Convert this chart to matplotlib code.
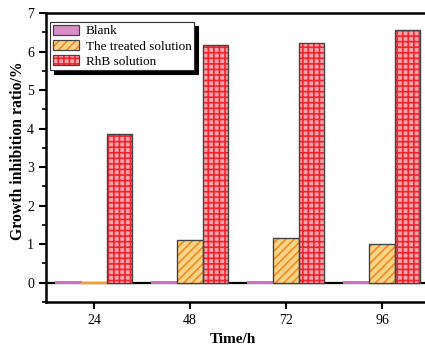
import matplotlib
matplotlib.use("Agg")
import matplotlib.pyplot as plt
from matplotlib.patches import Patch
from matplotlib.legend_handler import HandlerTuple
from matplotlib.ticker import MultipleLocator
import numpy as np

times = [24, 48, 72, 96]
tick_labels = ["24", "48", "72", "96"]
blank = [0.01, 0.01, 0.01, 0.01]
treated = [0.02, 1.10, 1.16, 1.00]
rhb = [3.87, 6.18, 6.23, 6.55]
series_names = ["Blank", "The treated solution", "RhB solution"]

plt.rcParams['font.family'] = ['Liberation Serif', 'DejaVu Serif']
plt.rcParams['hatch.linewidth'] = 1.2

fig = plt.figure(figsize=(4.25, 3.47), dpi=100)
ax = fig.add_axes([46/425, 45/347, 384/425, 289/347])

w = 6.4
x = np.array(times, dtype=float)
outline_dark = '#444444'

ax.axhline(0, color='black', lw=1.6, zorder=1)

# Blank
ax.bar(x - w, blank, width=w, color='#d88fc8', edgecolor='#d070c0', lw=1.5, zorder=2)
# Treated: fill+hatch, then outline
ax.bar(x, treated, width=w, color='#f8d488', edgecolor='#f08a22', hatch='////', lw=0, zorder=2)
tr_edges = [outline_dark if v > 0.05 else '#f0a030' for v in treated]
ax.bar(x, treated, width=w, fill=False, edgecolor=tr_edges, lw=1.0, zorder=3)
# RhB
ax.bar(x + w, rhb, width=w, color='#f9a3aa', edgecolor='#ee2530', hatch='+++', lw=0, zorder=2)
ax.bar(x + w, rhb, width=w, fill=False, edgecolor=outline_dark, lw=1.0, zorder=3)

ax.set_xlim(12, 108)
ax.set_ylim(-0.5, 7)
ax.set_xticks(times)
ax.set_xticklabels(tick_labels)
ax.yaxis.set_major_locator(MultipleLocator(1))
ax.yaxis.set_minor_locator(MultipleLocator(0.5))
ax.tick_params(axis='both', which='major', direction='out', length=5, width=1.5, labelsize=10)
ax.tick_params(axis='y', which='minor', direction='out', length=3, width=1.2)
ax.tick_params(axis='x', which='minor', bottom=False)
for s in ax.spines.values():
    s.set_linewidth(1.8)

ax.set_xlabel("Time/h", fontsize=11, fontweight='bold')
ax.xaxis.set_label_coords(0.487, -0.108)
ax.set_ylabel("Growth inhibition ratio/%", fontsize=11.3, fontweight='bold')
ax.yaxis.set_label_coords(-0.052, 0.522)

h1 = Patch(facecolor='#d88fc8', edgecolor=outline_dark, lw=0.9)
h2 = (Patch(facecolor='#f8d488', edgecolor='#f08a22', hatch='////', lw=0),
      Patch(fill=False, edgecolor=outline_dark, lw=0.9))
h3 = (Patch(facecolor='#f9a3aa', edgecolor='#ee2530', hatch='+++', lw=0),
      Patch(fill=False, edgecolor=outline_dark, lw=0.9))
leg = ax.legend([h1, h2, h3], series_names,
                handler_map={tuple: HandlerTuple(ndivide=1)},
                loc='upper left', bbox_to_anchor=(0.0104, 0.969), fontsize=9.5,
                frameon=True, fancybox=False,
                shadow={'ox': 3, 'oy': -3, 'color': 'black', 'alpha': 1.0},
                edgecolor='#333333', framealpha=1.0,
                handlelength=2.0, handleheight=0.85, borderpad=0.2, labelspacing=0.17,
                handletextpad=0.5, borderaxespad=0.0)
leg.get_frame().set_linewidth(0.8)

fig.savefig("out.png", dpi=100)
